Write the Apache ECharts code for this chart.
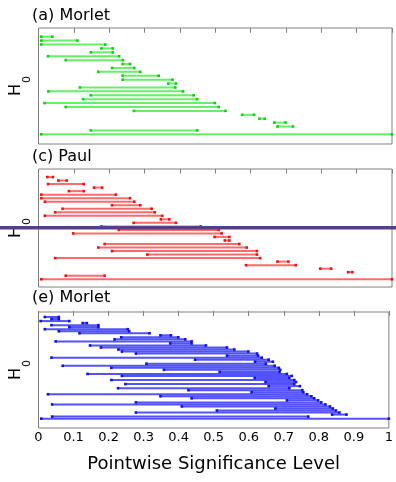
<!DOCTYPE html>
<html>
<head>
<meta charset="utf-8">
<script src="https://cdn.jsdelivr.net/npm/echarts@6/dist/echarts.min.js"></script>
<style>
  html, body { margin: 0; padding: 0; background: #fff; }
  #chart { width: 396px; height: 482px; }
</style>
</head>
<body>
<div id="chart"></div>
<script>
// Pointwise significance intervals, one per hypothesis H0 (top row first).
const morletA_lo = [0.008,0.008,0.008,0.178,0.148,0.027,0.077,0.238,0.208,0.169,0.238,0.238,0.367,0.117,0.028,0.148,0.126,0.017,0.077,0.270,0.576,0.625,0.667,0.676,0.148,0.008];
const morletA_hi = [0.039,0.110,0.189,0.210,0.210,0.228,0.239,0.259,0.271,0.288,0.340,0.379,0.389,0.387,0.409,0.439,0.449,0.499,0.510,0.529,0.610,0.640,0.699,0.720,0.449,1.000];

const paul_lo = [0.025,0.056,0.027,0.157,0.086,0.008,0.008,0.018,0.208,0.068,0.047,0.018,0.346,0.269,0.178,0.227,0.098,0.498,0.527,0.187,0.169,0.208,0.308,0.047,0.676,0.587,0.797,0.876,0.077,0.008];
const paul_hi = [0.041,0.080,0.128,0.180,0.128,0.219,0.259,0.271,0.288,0.320,0.329,0.350,0.370,0.389,0.459,0.510,0.518,0.540,0.540,0.568,0.589,0.618,0.618,0.627,0.707,0.728,0.828,0.888,0.187,1.000];

const morletE_lo = [0.018,0.037,0.006,0.126,0.037,0.088,0.018,0.058,0.117,0.348,0.236,0.217,0.049,0.376,0.147,0.178,0.228,0.238,0.278,0.538,0.037,0.447,0.618,0.308,0.069,0.208,0.358,0.517,0.140,0.238,0.617,0.208,0.648,0.248,0.657,0.227,0.428,0.608,0.027,0.348,0.437,0.709,0.278,0.039,0.409,0.676,0.509,0.278,0.838,0.039,0.008];
const morletE_hi = [0.058,0.058,0.088,0.138,0.171,0.171,0.255,0.259,0.317,0.378,0.399,0.419,0.437,0.437,0.478,0.538,0.559,0.599,0.624,0.627,0.637,0.657,0.669,0.649,0.674,0.686,0.690,0.688,0.709,0.723,0.716,0.730,0.735,0.730,0.746,0.716,0.753,0.756,0.767,0.779,0.787,0.798,0.807,0.819,0.832,0.840,0.849,0.859,0.879,0.770,1.000];

const panelTitles = ['(a) Morlet', '(c) Paul', '(e) Morlet'];
const xLabel = 'Pointwise Significance Level';
const xMin = 0, xMax = 1, xStep = 0.1;

const FONT = '"DejaVu Sans", "Liberation Sans", sans-serif';
const FRAME = '#808080';

const panels = [
  { lo: morletA_lo, hi: morletA_hi, line: 'rgba(0,230,0,0.6)',  dot: '#10d010', top: 28,  height: 116, yMin: -1.23, yMax: 28.48, titleTop: 8 },
  { lo: paul_lo,    hi: paul_hi,    line: 'rgba(255,0,0,0.58)', dot: '#f01010', top: 169, height: 118, yMin: -1.28, yMax: 32.2,  titleTop: 149 },
  { lo: morletE_lo, hi: morletE_hi, line: 'rgba(0,0,255,0.68)', dot: '#1010e8', top: 312, height: 116, yMin: -1.46, yMax: 55.6,  titleTop: 290 }
];

const grid = [], xAxis = [], yAxis = [], series = [], title = [];

panels.forEach((p, i) => {
  const last = i === panels.length - 1;
  grid.push({ left: 36, right: 4, top: p.top, height: p.height, show: true,
              borderColor: FRAME, borderWidth: 1, backgroundColor: 'transparent' });
  title.push({ text: panelTitles[i], left: 32, top: p.titleTop, padding: 0,
               textStyle: { fontFamily: FONT, fontSize: 16, fontWeight: 'normal', color: '#000' } });

  const tickStyle = { show: true, inside: true, length: 4, lineStyle: { color: FRAME, width: 1 } };
  xAxis.push({
    gridIndex: i, type: 'value', position: 'bottom', min: xMin, max: xMax, interval: xStep,
    axisLine: { show: false }, axisTick: tickStyle, splitLine: { show: false },
    axisLabel: { show: last, margin: 3, fontFamily: FONT, fontSize: 13, color: '#000',
                 showMinLabel: true, showMaxLabel: true },
    name: last ? xLabel : '', nameLocation: 'middle', nameGap: 27,
    nameTextStyle: { fontFamily: FONT, fontSize: 18, color: '#000' }
  });
  xAxis.push({
    gridIndex: i, type: 'value', position: 'top', min: xMin, max: xMax, interval: xStep,
    axisLine: { show: false }, axisTick: tickStyle, splitLine: { show: false },
    axisLabel: { show: false }
  });
  yAxis.push({
    gridIndex: i, type: 'value', inverse: true, min: p.yMin, max: p.yMax,
    axisLine: { show: false }, axisTick: { show: false }, axisLabel: { show: false },
    splitLine: { show: false },
    name: '{h|H}{s|0}', nameLocation: 'middle', nameRotate: 90, nameGap: 6,
    nameTextStyle: {
      fontFamily: FONT, color: '#000',
      rich: {
        h: { fontFamily: FONT, fontSize: 16, color: '#000' },
        s: { fontFamily: FONT, fontSize: 11, color: '#000', padding: [22, 0, 0, 1] }
      }
    }
  });

  const data = p.lo.map((v, k) => [k + 1, v, p.hi[k]]);
  series.push({
    type: 'custom', xAxisIndex: 2 * i, yAxisIndex: i, data,
    encode: { x: [1, 2], y: 0 },
    renderItem: (params, api) => {
      const row = api.value(0);
      const a = api.coord([api.value(1), row]);
      const b = api.coord([api.value(2), row]);
      const d = 2.6;
      return {
        type: 'group',
        children: [
          { type: 'line', shape: { x1: a[0], y1: a[1], x2: b[0], y2: b[1] },
            style: { stroke: p.line, lineWidth: 2 } },
          { type: 'rect', shape: { x: a[0] - d / 2, y: a[1] - d / 2, width: d, height: d },
            style: { fill: p.dot } },
          { type: 'rect', shape: { x: b[0] - d / 2, y: b[1] - d / 2, width: d, height: d },
            style: { fill: p.dot } }
        ]
      };
    }
  });
});

const chart = echarts.init(document.getElementById('chart'), null, { renderer: 'canvas' });
chart.setOption({
  animation: false,
  backgroundColor: '#fff',
  title, grid, xAxis, yAxis, series,
  graphic: [
    // dark purple rule drawn across the whole figure through panel (c)
    { type: 'rect', left: 0, top: 226, z: 100,
      shape: { width: 396, height: 3.5 }, style: { fill: '#553d8a' } }
  ]
});
</script>
</body>
</html>
